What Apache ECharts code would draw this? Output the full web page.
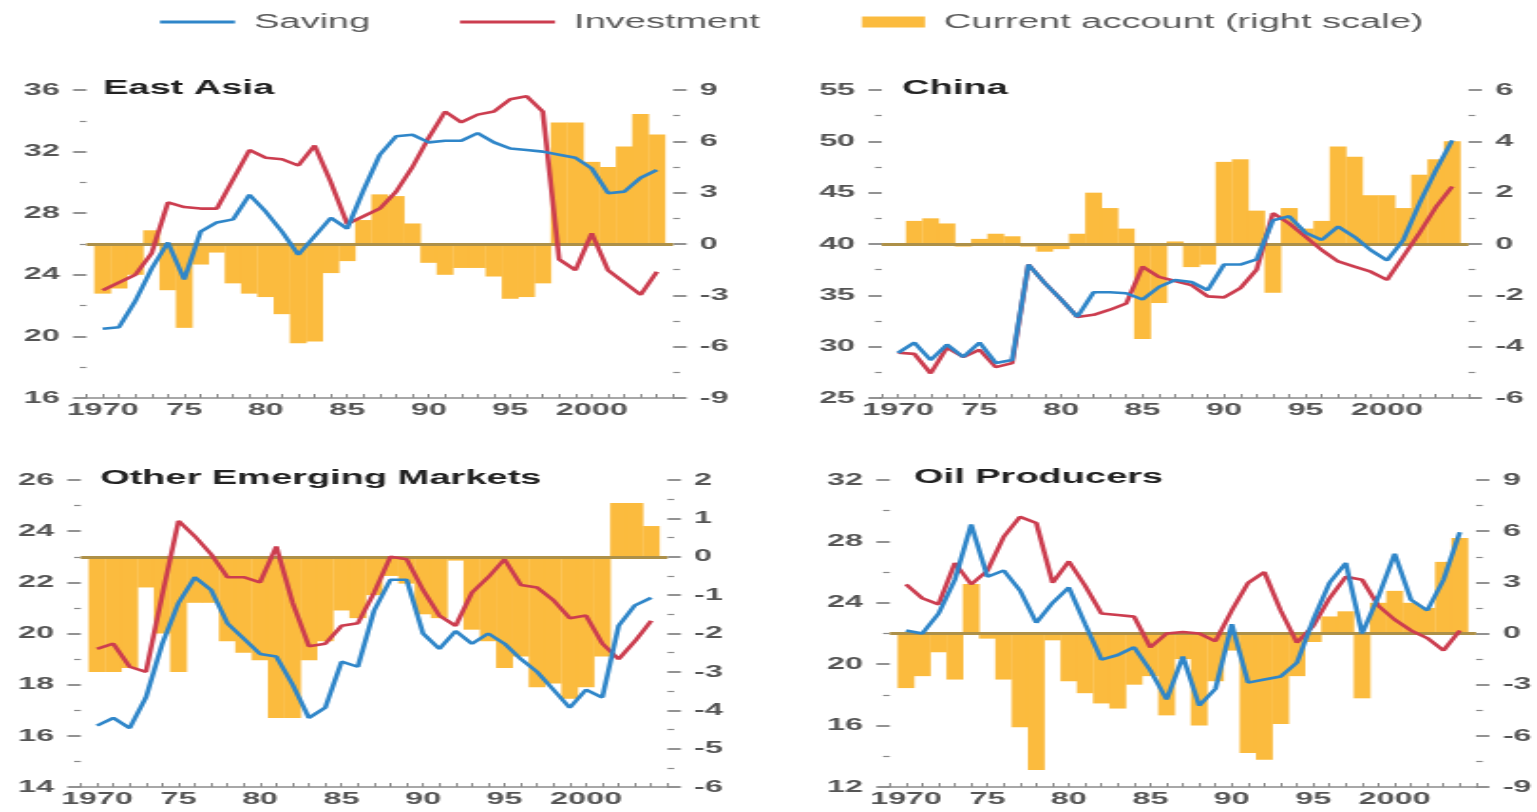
<!DOCTYPE html>
<html>
<head>
<meta charset="utf-8">
<title>Saving, Investment and Current Account</title>
<script src="https://cdn.jsdelivr.net/npm/echarts@6/dist/echarts.min.js"></script>
<style>
  html, body { margin: 0; padding: 0; background: #ffffff; overflow: hidden; }
  #chart { transform-origin: 0 0; }
</style>
</head>
<body>
<div id="chart"></div>
<script>
// ---- data: percent of GDP (lines, left scale) and current account (bars, right scale) ----
const years = [1970, 1971, 1972, 1973, 1974, 1975, 1976, 1977, 1978, 1979,
               1980, 1981, 1982, 1983, 1984, 1985, 1986, 1987, 1988, 1989,
               1990, 1991, 1992, 1993, 1994, 1995, 1996, 1997, 1998, 1999,
               2000, 2001, 2002, 2003, 2004];

const eastAsiaSaving = [20.5, 20.6, 22.3, 24.4, 26.1, 23.7, 26.8, 27.4, 27.6, 29.2,
                        28.1, 26.8, 25.3, 26.5, 27.7, 27.0, 29.5, 31.8, 33.0, 33.1,
                        32.6, 32.7, 32.7, 33.2, 32.6, 32.2, 32.1, 32.0, 31.8, 31.6,
                        30.9, 29.3, 29.4, 30.3, 30.8];
const eastAsiaInvestment = [23.0, 23.5, 24.0, 25.4, 28.7, 28.4, 28.3, 28.3, 30.2, 32.1,
                            31.6, 31.5, 31.1, 32.4, 30.0, 27.3, 27.8, 28.3, 29.4, 31.0,
                            32.9, 34.6, 33.9, 34.4, 34.6, 35.4, 35.6, 34.6, 25.0, 24.3,
                            26.7, 24.3, 23.5, 22.7, 24.2];
const eastAsiaCurrentAccount = [-2.9, -2.6, -1.8, 0.8, -2.7, -4.9, -1.2, -0.5, -2.3, -2.9,
                                -3.1, -4.1, -5.8, -5.7, -1.7, -1.0, 1.4, 2.9, 2.8, 1.2,
                                -1.1, -1.8, -1.4, -1.4, -1.9, -3.2, -3.1, -2.3, 7.1, 7.1,
                                4.8, 4.5, 5.7, 7.6, 6.4];

const chinaSaving = [29.4, 30.4, 28.7, 30.2, 29.0, 30.4, 28.4, 28.7, 38.0, 36.2,
                     34.6, 32.9, 35.3, 35.3, 35.2, 34.6, 35.8, 36.5, 36.3, 35.5,
                     38.0, 38.0, 38.5, 42.3, 42.7, 41.1, 40.4, 41.7, 40.7, 39.4,
                     38.4, 40.4, 44.0, 47.2, 50.1];
const chinaInvestment = [29.4, 29.3, 27.4, 29.9, 29.0, 29.7, 28.0, 28.4, 38.0, 36.2,
                         34.6, 32.9, 33.1, 33.6, 34.2, 37.8, 36.8, 36.4, 36.0, 34.9,
                         34.8, 35.7, 37.5, 43.0, 42.0, 40.7, 39.4, 38.3, 37.8, 37.3,
                         36.5, 38.8, 41.1, 43.6, 45.6];
const chinaCurrentAccount = [0.0, 0.9, 1.0, 0.8, -0.1, 0.2, 0.4, 0.3, -0.1, -0.3,
                             -0.2, 0.4, 2.0, 1.4, 0.6, -3.7, -2.3, 0.1, -0.9, -0.8,
                             3.2, 3.3, 1.3, -1.9, 1.4, 0.6, 0.9, 3.8, 3.4, 1.9,
                             1.9, 1.4, 2.7, 3.3, 4.0];

const otherEmergingSaving = [16.4, 16.7, 16.3, 17.5, 19.6, 21.2, 22.2, 21.7, 20.4, 19.8,
                             19.2, 19.1, 18.0, 16.7, 17.1, 18.9, 18.7, 20.9, 22.1, 22.1,
                             20.0, 19.4, 20.1, 19.6, 20.0, 19.6, 19.0, 18.5, 17.8, 17.1,
                             17.8, 17.5, 20.3, 21.1, 21.4];
const otherEmergingInvestment = [19.4, 19.6, 18.7, 18.5, 21.5, 24.4, 23.8, 23.1, 22.2, 22.2,
                                 22.0, 23.4, 21.2, 19.5, 19.6, 20.3, 20.4, 21.6, 23.0, 22.9,
                                 21.7, 20.7, 20.3, 21.6, 22.2, 22.9, 21.9, 21.8, 21.3, 20.6,
                                 20.7, 19.6, 19.0, 19.7, 20.5];
const otherEmergingCurrentAccount = [-3.0, -3.0, -2.9, -0.8, -2.0, -3.0, -1.2, -1.2, -2.2, -2.5,
                                     -2.7, -4.2, -4.2, -2.7, -2.2, -1.4, -1.6, -1.0, -0.5, -0.7,
                                     -1.5, -1.6, -0.1, -1.9, -2.2, -2.9, -2.6, -3.4, -3.3, -3.7,
                                     -3.4, -2.6, 1.4, 1.4, 0.8];

const oilProducersSaving = [22.2, 22.0, 23.3, 25.5, 29.1, 25.7, 26.1, 24.8, 22.7, 24.0,
                            25.0, 22.6, 20.3, 20.6, 21.1, 19.6, 17.7, 20.5, 17.3, 18.4,
                            22.6, 18.8, 19.0, 19.2, 20.1, 22.9, 25.3, 26.6, 22.0, 24.4,
                            27.2, 24.2, 23.5, 25.5, 28.6];
const oilProducersInvestment = [25.2, 24.3, 23.9, 26.6, 25.2, 26.1, 28.3, 29.6, 29.2, 25.3,
                                26.7, 25.1, 23.3, 23.2, 23.1, 21.1, 22.0, 22.1, 22.0, 21.5,
                                23.5, 25.3, 26.0, 23.5, 21.4, 22.5, 24.3, 25.7, 25.5, 23.8,
                                22.9, 22.2, 21.7, 20.9, 22.2];
const oilProducersCurrentAccount = [-3.2, -2.5, -1.1, -2.7, 2.9, -0.3, -2.7, -5.5, -8.0, -0.4,
                                    -2.8, -3.5, -4.1, -4.4, -3.0, -2.5, -4.8, -1.5, -5.4, -2.8,
                                    -1.0, -7.0, -7.4, -5.3, -2.5, -0.5, 1.0, 1.3, -3.8, 1.8,
                                    2.5, 1.8, 1.5, 4.2, 5.6];

// ---- tick labels ----
const xTickYears  = [1970, 1975, 1980, 1985, 1990, 1995, 2000];
const xTickLabels = ['1970', '75', '80', '85', '90', '95', '2000'];

// [min, max, interval] for the left (lines) and right (bars) scales
const eastAsiaLeftScale      = [16, 36, 4];
const eastAsiaRightScale     = [-9, 9, 3];
const chinaLeftScale         = [25, 55, 5];
const chinaRightScale        = [-6, 6, 2];
const otherEmergingLeftScale = [14, 26, 2];
const otherEmergingRightScale= [-6, 2, 1];
const oilProducersLeftScale  = [12, 32, 4];
const oilProducersRightScale = [-9, 9, 3];

const panelTitles = ['East Asia', 'China', 'Other Emerging Markets', 'Oil Producers'];

// ---- styling / layout ----
const SX = 1.9;                 // horizontal stretch of the drawing
const PAGE_W = 1537, PAGE_H = 812;
const YEAR_PX = 16.3;           // on-page width of one year
const FONT = '"Liberation Sans", Arial, Helvetica, sans-serif';
const C_SAVING = '#2f86c9';
const C_INVEST = '#cc3d4f';
const C_BAR    = '#fbbb3e';
const C_ZERO   = '#ad9048';
const C_AXIS   = '#6f6f6f';
const C_TEXT   = '#555555';

const px = x => x / SX;

const panels = [
  { title: panelTitles[0], saving: eastAsiaSaving, invest: eastAsiaInvestment, ca: eastAsiaCurrentAccount,
    leftScale: eastAsiaLeftScale, rightScale: eastAsiaRightScale,
    x1970: 102.7, top: 90, height: 308, titleX: 103, titleTop: 78 },
  { title: panelTitles[1], saving: chinaSaving, invest: chinaInvestment, ca: chinaCurrentAccount,
    leftScale: chinaLeftScale, rightScale: chinaRightScale,
    x1970: 898, top: 90, height: 308, titleX: 902, titleTop: 78 },
  { title: panelTitles[2], saving: otherEmergingSaving, invest: otherEmergingInvestment, ca: otherEmergingCurrentAccount,
    leftScale: otherEmergingLeftScale, rightScale: otherEmergingRightScale,
    x1970: 97, top: 480, height: 307, titleX: 100, titleTop: 468 },
  { title: panelTitles[3], saving: oilProducersSaving, invest: oilProducersInvestment, ca: oilProducersCurrentAccount,
    leftScale: oilProducersLeftScale, rightScale: oilProducersRightScale,
    x1970: 906, top: 480, height: 307, titleX: 914, titleTop: 467 }
];

const el = document.getElementById('chart');
const W = Math.ceil(PAGE_W / SX);
el.style.width = W + 'px';
el.style.height = PAGE_H + 'px';
el.style.transform = 'scaleX(' + SX + ')';

const xLabel = v => {
  const r = Math.round(v);
  if (Math.abs(v - r) > 1e-6) return '';
  const i = xTickYears.indexOf(r);
  return i >= 0 ? xTickLabels[i] : '';
};

const axisLabelStyle = { color: C_TEXT, fontSize: 17, fontWeight: 'bold', fontFamily: FONT };

const grid = [], xAxis = [], yAxis = [], series = [], title = [];

panels.forEach((p, i) => {
  grid.push({
    left: px(p.x1970 - YEAR_PX),
    top: p.top,
    width: px(36 * YEAR_PX),
    height: p.height,
    containLabel: false
  });
  title.push({
    text: p.title,
    left: px(p.titleX),
    top: p.titleTop,
    padding: 0,
    textStyle: { fontSize: 20, fontWeight: 'bold', color: '#222222', fontFamily: FONT }
  });
  xAxis.push({
    type: 'value', gridIndex: i, min: 1969, max: 2005, interval: 1,
    axisLine: { show: true, onZero: false, lineStyle: { color: '#8c8c8c', width: 1.5 } },
    axisTick: { show: true, inside: true, length: 4, lineStyle: { color: '#8c8c8c', width: 1 } },
    axisLabel: Object.assign({ formatter: xLabel, margin: 4 }, axisLabelStyle),
    splitLine: { show: false }
  });
  const yAx = (scale, pos) => ({
    type: 'value', gridIndex: i, position: pos,
    min: scale[0], max: scale[1], interval: scale[2],
    axisLine: { show: false },
    axisTick: { show: true, inside: false, length: 7, lineStyle: { color: C_AXIS, width: 1.5 } },
    minorTick: { show: true, splitNumber: 2, length: 3.5, lineStyle: { color: '#8a8a8a', width: 1.2 } },
    splitLine: { show: false },
    minorSplitLine: { show: false },
    axisLabel: Object.assign({ margin: 14 }, axisLabelStyle)
  });
  yAxis.push(yAx(p.leftScale, 'left'));
  yAxis.push(yAx(p.rightScale, 'right'));

  series.push({
    type: 'bar', name: 'Current account (right scale)',
    xAxisIndex: i, yAxisIndex: 2 * i + 1,
    data: years.map((y, j) => [y, p.ca[j]]),
    barWidth: px(YEAR_PX) + 0.3,
    itemStyle: { color: C_BAR },
    z: 1,
    markLine: {
      silent: true, z: 2, symbol: ['none', 'none'],
      label: { show: false },
      lineStyle: { color: C_ZERO, width: 3, type: 'solid' },
      emphasis: { disabled: true },
      data: [{ yAxis: 0 }]
    }
  });
  series.push({
    type: 'line', name: 'Investment',
    xAxisIndex: i, yAxisIndex: 2 * i,
    data: years.map((y, j) => [y, p.invest[j]]),
    symbol: 'none', z: 3,
    lineStyle: { color: C_INVEST, width: 2.6 },
    itemStyle: { color: C_INVEST }
  });
  series.push({
    type: 'line', name: 'Saving',
    xAxisIndex: i, yAxisIndex: 2 * i,
    data: years.map((y, j) => [y, p.saving[j]]),
    symbol: 'none', z: 4,
    lineStyle: { color: C_SAVING, width: 2.6 },
    itemStyle: { color: C_SAVING }
  });
});

// legend: thin strokes for the two lines, a filled swatch for the bars
const legendText = { color: '#5a5a5a', fontSize: 20, fontFamily: FONT, padding: [0, 0, 0, 5] };
const legend = [
  { data: [{ name: 'Saving', icon: 'rect' }], left: px(160), top: 12, padding: 0,
    itemWidth: px(75), itemHeight: 3, textStyle: legendText },
  { data: [{ name: 'Investment', icon: 'rect' }], left: px(460), top: 12, padding: 0,
    itemWidth: px(95), itemHeight: 3, textStyle: legendText },
  { data: [{ name: 'Current account (right scale)', icon: 'rect' }], left: px(862), top: 12, padding: 0,
    itemWidth: px(63), itemHeight: 11, textStyle: legendText }
];

const chart = echarts.init(el, null, { renderer: 'canvas' });
chart.setOption({
  backgroundColor: '#ffffff',
  animation: false,
  title, legend, grid, xAxis, yAxis, series
});
</script>
</body>
</html>
